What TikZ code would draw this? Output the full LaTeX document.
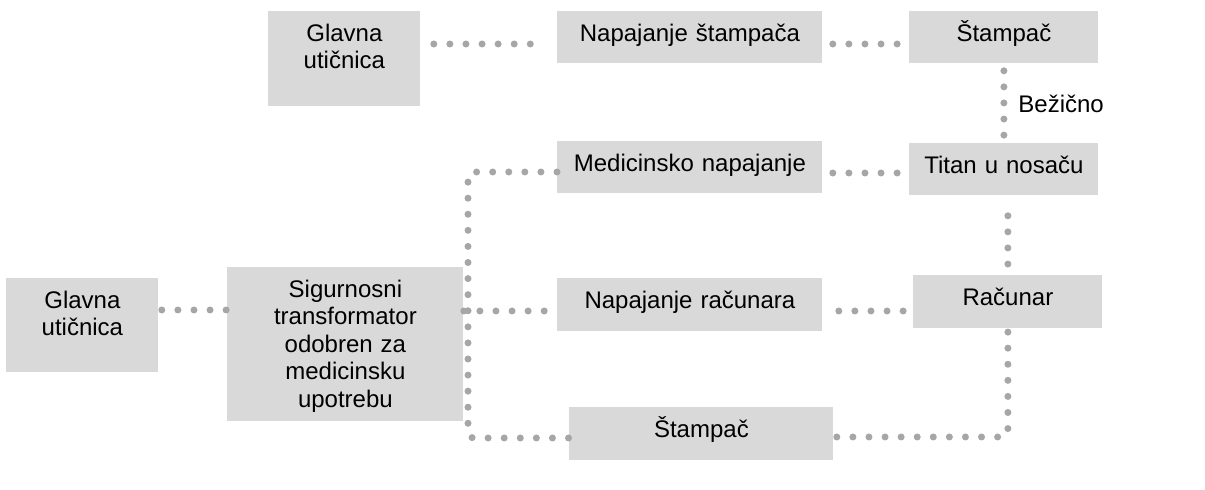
\documentclass[tikz,border=0pt]{standalone}
\usepackage{fontspec}
\setmainfont{Liberation Sans}
\usepackage{xcolor}
\usetikzlibrary{positioning}

\definecolor{boxgray}{HTML}{D9D9D9}
\definecolor{dotgray}{HTML}{A6A6A6}

\begin{document}
\begin{tikzpicture}
        [x=0.5pt, y=-0.5pt,
        unit/.style={rectangle,fill=boxgray,inner sep=0pt,anchor=north west,align=center,text height=15pt,font=\fontsize{12}{13.75}\selectfont},
        link/.style={draw=dotgray,line width=3.5pt,line cap=round,dash pattern=on 0pt off 8.04pt,rounded corners=3pt},
        wire/.style={inner sep=0pt,font=\fontsize{12}{13.75}\selectfont}]

\useasboundingbox (0,0) rectangle (1205,490);

% units
\node[unit, text width=76pt, text depth=32.5pt] at (268,11) (outlet1) {Glavna\\utičnica};
\node[unit, text width=132.5pt, text depth=11pt] at (557,11) (prpower) {Napajanje štampača};
\node[unit, text width=94.5pt, text depth=11pt] at (909,11) (printer1) {Štampač};

\node[unit, text width=132.5pt, text depth=11pt] at (557,141) (medpower) {Medicinsko napajanje};
\node[unit, text width=94.5pt, text depth=11pt] at (909,143) (titan) {Titan u nosaču};

\node[unit, text width=76pt, text depth=32pt] at (6,278) (outlet2) {Glavna\\utičnica};
\node[unit, text width=118pt, text depth=62pt] at (227,267) (trafo) {Sigurnosni\\transformator\\odobren za\\medicinsku\\upotrebu};
\node[unit, text width=132.5pt, text depth=11.5pt] at (557,278) (pcpower) {Napajanje računara};
\node[unit, text width=94.5pt, text depth=11.5pt] at (913,275) (computer) {Računar};

\node[unit, text width=132pt, text depth=11.5pt] at (569,407) (printer2) {Štampač};

\coordinate (bus) at (468,0);

% links
\draw[link, shorten <=6.5pt, shorten >=12pt] (outlet1.east |- 0,44) -- (prpower.west |- 0,44);
\draw[link, shorten <=5pt, shorten >=5.5pt] (prpower.east |- 0,44) -- (printer1.west |- 0,44);
\draw[link, shorten <=3.5pt, shorten >=3.5pt] (printer1.south) -- node[wire, right=5.5pt] (wireless) {Bežično} (titan.north);

\draw[link, shorten <=5pt, shorten >=5.5pt] (medpower.east |- 0,173) -- (titan.west |- 0,173);
\draw[link, shorten <=10pt, shorten >=4.5pt] (titan.south -| computer.north) -- (computer.north);
\draw[link, shorten <=8pt, shorten >=4.5pt] (pcpower.east |- 0,311) -- (computer.west |- 0,311);

\draw[link, shorten <=1.5pt] (outlet2.east |- 0,310) -- (trafo.west |- 0,310);
\draw[link] (medpower.west |- 0,172) -| (bus |- 0,438) -- (printer2.west |- 0,438);
\draw[link, shorten >=5.5pt] (trafo.east |- 0,311) -- (pcpower.west |- 0,311);
\draw[link, shorten <=1.5pt] (printer2.east |- 0,437) -| (computer.south);

\end{tikzpicture}
\end{document}
